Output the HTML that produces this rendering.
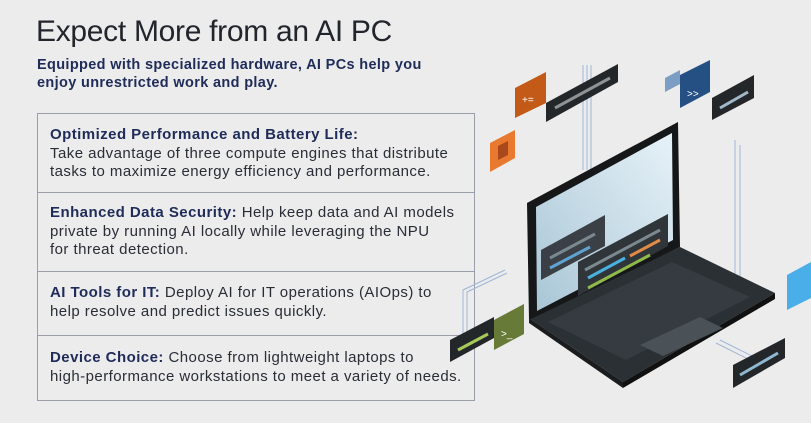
<!DOCTYPE html>
<html><head><style>
body{margin:0;width:811px;height:423px;background:#ececec;overflow:hidden;position:relative;font-family:"Liberation Sans",sans-serif;color:#2a2d36}
.t{position:absolute;left:36px;top:15px;font-size:30px;font-weight:300;color:#22252c;letter-spacing:-0.3px;white-space:nowrap}
.s{position:absolute;left:37px;top:56px;font-size:14.5px;font-weight:bold;color:#1f2b58;line-height:18px;letter-spacing:0.35px}
.box{position:absolute;left:37px;top:113px;width:436px;height:286px;border:1px solid #9a9ea8}
.d{position:absolute;left:37px;width:437px;height:1px;background:#9a9ea8}
.r{position:absolute;left:50px;font-size:15px;line-height:18.5px;color:#2a2d36;white-space:nowrap;letter-spacing:0.45px}
.r b{color:#1f2b58}
</style></head><body>
<div class="t">Expect More from an AI PC</div>
<div class="s">Equipped with specialized hardware, AI PCs help you<br>enjoy unrestricted work and play.</div>
<div class="box"></div>
<div class="d" style="top:192px"></div>
<div class="d" style="top:271px"></div>
<div class="d" style="top:335px"></div>
<div class="r" style="top:126px"><b>Optimized Performance and Battery Life:</b><br>Take advantage of three compute engines that distribute<br>tasks to maximize energy efficiency and performance.</div>
<div class="r" style="top:204px"><b>Enhanced Data Security:</b> Help keep data and AI models<br>private by running AI locally while leveraging the NPU<br>for threat detection.</div>
<div class="r" style="top:284px"><b>AI Tools for IT:</b> Deploy AI for IT operations (AIOps) to<br>help resolve and predict issues quickly.</div>
<div class="r" style="top:349px"><b>Device Choice:</b> Choose from lightweight laptops to<br>high-performance workstations to meet a variety of needs.</div>
<svg style="position:absolute;left:0;top:0" width="811" height="423">
<defs><linearGradient id="sc" x1="0" y1="1" x2="1" y2="0"><stop offset="0" stop-color="#a9c6d6"/><stop offset="1" stop-color="#e6f2f8"/></linearGradient></defs>
<g stroke="#9fb6d6" fill="none" stroke-width="1">
<path d="M583 65V170M587 65V170M591 65V170"/>
<path d="M735 140V300L700 320M740 145V305L705 325"/>
<path d="M463 350V290L505 270M467 350V292L507 273"/>
<path d="M720 340L770 365M716 343L766 368"/>
</g>
<polygon points="529,318 680,247 775,293 623,382" fill="#2b3034"/>
<polygon points="529,318 623,382 623,388 529,323" fill="#1a1c1e"/>
<polygon points="623,382 775,293 775,299 623,388" fill="#111"/>
<polygon points="548,322 672,262 750,297 626,360" fill="#353b40"/>
<polygon points="640,345 700,317 723,328 663,356" fill="#4a5257"/>
<polygon points="527,203 678,122 680,247 529,320" fill="#151719"/>
<polygon points="536,207 672,133 673,240 537,311" fill="url(#sc)"/>
<polygon points="541,250 605,215 605,246 541,280" fill="#3a4045"/>
<polygon points="578,262 668,214 668,246 578,296" fill="#2f3538"/>
<g stroke-width="3">
<line x1="550" y1="258" x2="595" y2="234" stroke="#7b8890"/>
<line x1="550" y1="268" x2="590" y2="247" stroke="#5fa3d0"/>
<line x1="585" y1="270" x2="660" y2="230" stroke="#7b8890"/>
<line x1="588" y1="278" x2="625" y2="258" stroke="#4ab0e0"/>
<line x1="630" y1="256" x2="660" y2="240" stroke="#e08b48"/>
<line x1="588" y1="288" x2="650" y2="255" stroke="#8fba4a"/>
</g>
<polygon points="515,88 546,72 546,103 515,118" fill="#c35a17"/>
<text x="522" y="103" font-size="10" fill="#fff" font-family="Liberation Sans">+=</text>
<polygon points="490,143 515,130 515,158 490,172" fill="#e8792e"/>
<polygon points="498,146 508,141 508,155 498,160" fill="#a9481b"/>
<polygon points="546,103 618,64 618,82 546,122" fill="#24272a"/>
<line x1="555" y1="108" x2="610" y2="78" stroke="#8d9296" stroke-width="3"/>
<polygon points="680,75 710,60 710,92 680,108" fill="#255083"/>
<text x="687" y="97" font-size="10" fill="#fff" font-family="Liberation Sans">&gt;&gt;</text>
<polygon points="665,78 680,70 680,84 665,92" fill="#7d9ec4"/>
<polygon points="712,98 754,75 754,98 712,120" fill="#24272a"/>
<line x1="720" y1="108" x2="748" y2="92" stroke="#a0b8c8" stroke-width="3"/>
<polygon points="494,320 524,304 524,334 494,350" fill="#687a38"/>
<text x="501" y="337" font-size="10" fill="#fff" font-family="Liberation Sans">&gt;_</text>
<polygon points="450,340 494,317 494,338 450,362" fill="#24272a"/>
<line x1="458" y1="350" x2="488" y2="334" stroke="#a8c85a" stroke-width="3"/>
<polygon points="787,275 811,262 811,298 787,310" fill="#4aafe8"/>
<polygon points="733,365 785,338 785,358 733,388" fill="#24272a"/>
<line x1="740" y1="375" x2="778" y2="353" stroke="#8fb8d0" stroke-width="3"/>
</svg>
</body></html>
